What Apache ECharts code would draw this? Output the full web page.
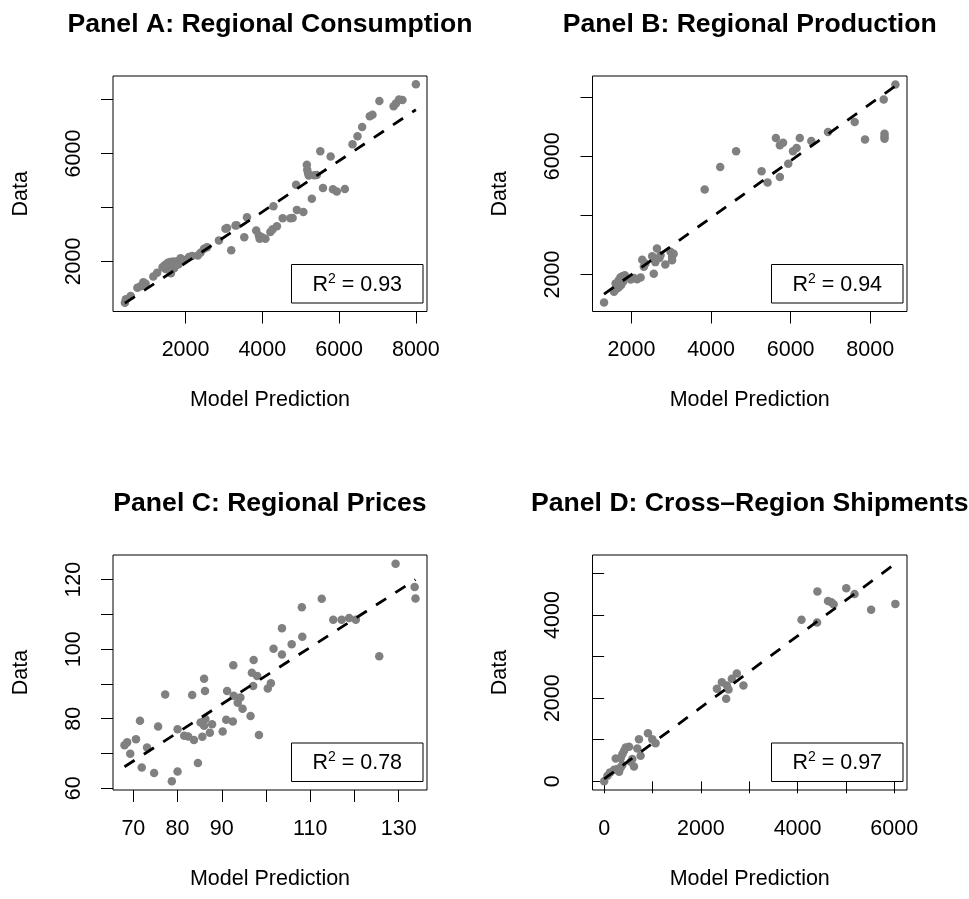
<!DOCTYPE html>
<html>
<head>
<meta charset="utf-8">
<script src="https://cdn.jsdelivr.net/npm/echarts@6/dist/echarts.min.js"></script>
<style>
  html, body { margin: 0; padding: 0; background: #fff; }
  #chart { width: 969px; height: 899px; }
</style>
</head>
<body>
<div id="chart"></div>
<script>
// [model prediction, data] for each panel
const consumption = [
  [420, 470], [445, 600], [570, 715], [745, 1025], [830, 1085], [900, 1230], [960, 1175],
  [1160, 1445], [1260, 1580], [1400, 1780], [1450, 1850], [1480, 1720], [1500, 1900],
  [1520, 1800], [1540, 1950], [1560, 1870], [1580, 1700], [1600, 1980], [1620, 1560],
  [1640, 1900], [1660, 1820], [1680, 2000], [1700, 1750], [1720, 1940], [1750, 1850],
  [1780, 2010], [1820, 1900], [1870, 2120], [1950, 2050], [2090, 2160], [2170, 2200],
  [2320, 2220], [2390, 2320], [2480, 2470], [2560, 2530], [2870, 2780], [3040, 3210],
  [3080, 3240], [3190, 2410], [3300, 3330], [3330, 3340], [3530, 2900], [3600, 3640],
  [3840, 3150], [3910, 2960], [3930, 2840], [3990, 2900], [4080, 2840], [4210, 3090],
  [4270, 3190], [4290, 4040], [4380, 3300], [4530, 3600], [4730, 3600], [4790, 3610],
  [4880, 4840], [4900, 3910], [5070, 3830], [5160, 5580], [5170, 5400], [5190, 5280],
  [5210, 5180], [5290, 4320], [5350, 5190], [5420, 5200], [5510, 6080], [5580, 4720],
  [5780, 5890], [5840, 4670], [5940, 4590], [6150, 4680], [6350, 6340], [6480, 6640],
  [6600, 6980], [6800, 7380], [6870, 7430], [7050, 7940], [7420, 7750], [7480, 7850],
  [7560, 8000], [7650, 7980], [8000, 8560]
];
const production = [
  [1310, 1054], [1560, 1415], [1600, 1700], [1640, 1530], [1680, 1810], [1690, 1580],
  [1720, 1900], [1740, 1650], [1770, 1945], [1790, 1760], [1810, 1870], [1830, 1980],
  [1980, 1830], [2060, 1880], [2140, 1840], [2230, 1900], [2270, 2500], [2310, 2260],
  [2350, 2370], [2520, 2620], [2560, 2030], [2600, 2420], [2640, 2880], [2700, 2560],
  [2730, 2650], [2850, 2340], [2980, 2770], [3020, 2600], [3020, 2480], [3060, 2700],
  [3840, 4880], [4230, 5640], [4630, 6170], [5270, 5490], [5420, 5110], [5630, 6620],
  [5730, 6370], [5730, 5300], [5810, 6460], [5940, 5750], [6060, 6170], [6150, 6280],
  [6230, 6620], [6520, 6520], [6940, 6820], [7610, 7160], [7870, 6570], [8360, 6760],
  [8360, 6670], [8360, 6590], [8340, 7920], [8633, 8430]
];
const prices = [
  [68.0, 72.4], [68.6, 73.2], [69.3, 69.9], [70.6, 74.1], [71.5, 79.4], [71.9, 66.0],
  [73.1, 71.7], [74.7, 64.4], [75.6, 77.8], [77.2, 87.0], [78.7, 62.0], [80.0, 64.8],
  [80.0, 77.0], [81.5, 75.1], [82.4, 74.9], [83.3, 86.8], [83.7, 73.9], [84.6, 67.3],
  [85.2, 78.9], [85.6, 74.8], [86.0, 91.5], [86.0, 78.0], [86.2, 88.0], [86.3, 79.9],
  [87.3, 76.0], [87.8, 78.4], [90.2, 76.3], [91.0, 79.7], [91.2, 88.0], [92.5, 79.2],
  [92.6, 95.4], [92.7, 86.6], [93.6, 84.6], [94.2, 86.1], [94.7, 82.9], [96.5, 80.8],
  [96.8, 93.2], [97.1, 89.4], [97.2, 96.9], [98.0, 92.3], [98.4, 75.3], [100.4, 88.7],
  [101.1, 90.2], [101.7, 100.1], [103.6, 106.0], [103.6, 98.5], [105.8, 101.4],
  [108.1, 112.1], [108.2, 103.6], [112.6, 114.5], [115.2, 108.5], [117.1, 108.5],
  [118.8, 109.0], [120.3, 108.5], [125.6, 98.0], [129.3, 124.6], [133.6, 117.9],
  [133.8, 114.6]
];
const shipments = [
  [0, 0], [69, 136], [123, 215], [206, 279], [274, 295], [309, 231], [343, 335],
  [377, 391], [240, 551], [343, 559], [377, 654], [412, 734], [446, 814], [515, 830],
  [549, 471], [583, 535], [617, 359], [686, 790], [720, 1013], [755, 614], [906, 1157],
  [995, 1013], [1063, 918], [2332, 2226], [2435, 2386], [2538, 2306], [2573, 2210],
  [2524, 1987], [2641, 2466], [2744, 2594], [2881, 2306], [4082, 3886], [4404, 3822],
  [4411, 4565], [4631, 4341], [4699, 4309], [4747, 4261], [5008, 4644], [5179, 4509],
  [5522, 4126], [6023, 4269]
];

// fitted lines (ends of the model line)
const fitConsumption = [[420, 453], [8000, 7619]];
const fitProduction = [[1310, 1338], [8633, 8380]];
const fitPrices = [[68.0, 66.2], [133.8, 120.0]];
const fitShipments = [[0, 56], [6023, 5236]];

const r2Values = ['0.93', '0.94', '0.78', '0.97'];
const titles = [
  'Panel A: Regional Consumption',
  'Panel B: Regional Production',
  'Panel C: Regional Prices',
  'Panel D: Cross\u2013Region Shipments'
];

// tick marks and tick labels
const ticksThousands = [2000, 4000, 6000, 8000];
const labelsSparse = [2000, 6000];
const ticksPriceX = [70, 80, 90, 100, 110, 120, 130];
const labelsPriceX = [70, 80, 90, 110, 130];
const ticksPriceY = [60, 70, 80, 90, 100, 110, 120];
const labelsPriceY = [60, 80, 100, 120];
const ticksShipX = [0, 1000, 2000, 3000, 4000, 5000, 6000];
const labelsShipX = [0, 2000, 4000, 6000];
const ticksShipY = [0, 1000, 2000, 3000, 4000, 5000];
const labelsShipY = [0, 2000, 4000];

const FONT = '"Liberation Sans", Arial, Helvetica, sans-serif';

const panels = [
  { pts: consumption, fit: fitConsumption, left: 113, top: 76, width: 314, height: 235.5,
    x: [110, 8290], y: [145, 8870], xt: ticksThousands, xl: ticksThousands, yt: ticksThousands, yl: labelsSparse },
  { pts: production, fit: fitProduction, left: 592.5, top: 76, width: 314.5, height: 235.5,
    x: [1020, 8925], y: [750, 8715], xt: ticksThousands, xl: ticksThousands, yt: ticksThousands, yl: labelsSparse },
  { pts: prices, fit: fitPrices, left: 113, top: 555, width: 314, height: 235,
    x: [65.4, 136.4], y: [59.5, 127.1], xt: ticksPriceX, xl: labelsPriceX, yt: ticksPriceY, yl: labelsPriceY },
  { pts: shipments, fit: fitShipments, left: 592.5, top: 555, width: 314.5, height: 235,
    x: [-241, 6264], y: [-209, 5445], xt: ticksShipX, xl: labelsShipX, yt: ticksShipY, yl: labelsShipY }
];

function axis(i, range, ticks, labels, isY) {
  return {
    type: 'value',
    gridIndex: i,
    min: range[0],
    max: range[1],
    axisLine: { show: false },
    splitLine: { show: false },
    axisTick: { show: true, length: 12, customValues: ticks, lineStyle: { color: '#000', width: 1 } },
    axisLabel: {
      customValues: labels,
      formatter: v => String(v),
      margin: 28,
      rotate: isY ? 90 : 0,
      color: '#000',
      fontSize: 21.5,
      fontFamily: FONT
    },
    name: isY ? 'Data' : 'Model Prediction',
    nameLocation: 'middle',
    nameGap: isY ? 81 : 78,
    nameTextStyle: { color: '#000', fontSize: 21.5, fontFamily: FONT }
  };
}

const graphics = [];
panels.forEach((p, i) => {
  graphics.push({
    type: 'text',
    x: p.left + p.width / 2,
    y: p.top - 51,
    style: {
      text: titles[i],
      align: 'center',
      verticalAlign: 'middle',
      fontSize: 26.6,
      fontWeight: 'bold',
      fontFamily: FONT,
      fill: '#000'
    }
  });
  const bx = p.left + p.width - 4 - 131.5;
  const by = p.top + p.height - 8.5 - 38.5;
  graphics.push({
    type: 'rect',
    shape: { x: bx, y: by, width: 131.5, height: 38.5 },
    style: { fill: '#fff', stroke: '#000', lineWidth: 1 },
    z: 10
  });
  graphics.push({
    type: 'text',
    x: bx + 131.5 / 2,
    y: by + 38.5 / 2 + 1,
    z: 11,
    style: {
      text: '{n|R}{s|2}{n| = ' + r2Values[i] + '}',
      align: 'center',
      verticalAlign: 'middle',
      rich: {
        n: { fontSize: 21.5, fontFamily: FONT, fill: '#000' },
        s: { fontSize: 14, fontFamily: FONT, fill: '#000', padding: [0, 0, 12, 0] }
      }
    }
  });
});

const chart = echarts.init(document.getElementById('chart'));
chart.setOption({
  animation: false,
  backgroundColor: '#fff',
  grid: panels.map(p => ({
    left: p.left, top: p.top, width: p.width, height: p.height,
    show: true, borderColor: '#000', borderWidth: 1,
    outerBoundsMode: 'none', containLabel: false
  })),
  xAxis: panels.map((p, i) => axis(i, p.x, p.xt, p.xl, false)),
  yAxis: panels.map((p, i) => axis(i, p.y, p.yt, p.yl, true)),
  series: panels.flatMap((p, i) => [
    {
      type: 'scatter',
      xAxisIndex: i, yAxisIndex: i,
      data: p.pts,
      symbolSize: 8.5,
      itemStyle: { color: '#808080', opacity: 1 },
      silent: true,
      z: 2
    },
    {
      type: 'line',
      xAxisIndex: i, yAxisIndex: i,
      data: p.fit,
      symbol: 'none',
      lineStyle: { color: '#000', width: 2.8, type: [12, 11] },
      silent: true,
      z: 3
    }
  ]),
  graphic: graphics
});
</script>
</body>
</html>
